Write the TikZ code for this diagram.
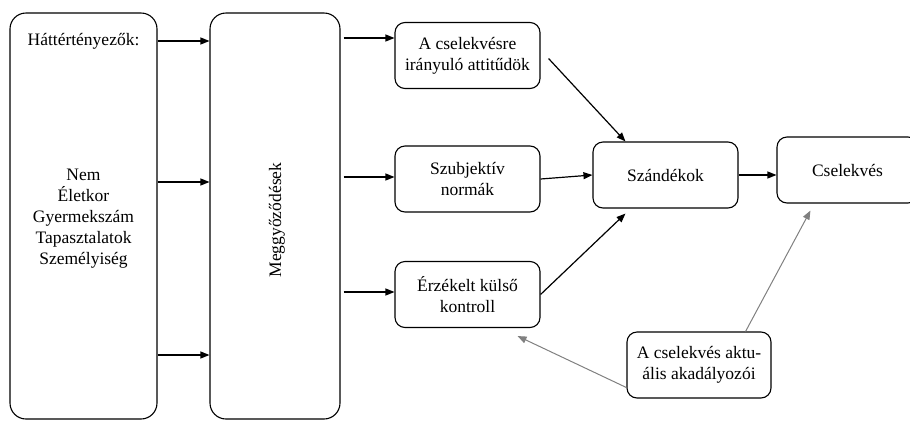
\documentclass[tikz,border=0pt]{standalone}
\usepackage{fontspec}
\setmainfont{Liberation Serif}
\newfontfamily\timesfont{Liberation Serif}
\usetikzlibrary{arrows.meta}

\tikzset{
  tall/.style = {draw, line width = 1.1pt, rounded corners = 16pt,
                 minimum width = 147pt, minimum height = 406pt},
  card/.style = {draw, line width = 1.1pt, rounded corners = 10pt, align = center,
                 minimum width = 145pt, minimum height = 66pt, inner sep = 2pt},
  txt/.style  = {align = center, inner sep = 0pt},
  arr/.style  = {line width = 1.2pt, -{Triangle[length = 9pt, width = 7pt]}},
  garr/.style = {arr, gray, line width = 1pt}
}

\begin{document}
\begin{tikzpicture}[x = 1pt, y = -1pt, font = \timesfont\fontsize{17.5}{21}\selectfont]
        \useasboundingbox (0, 0) rectangle (910, 421);

        % left columns
        \node[tall] (bg) at (83.5, 216) {};
        \node[txt] (bgtitle) at (83.5, 41) {Háttértényezők:};
        \node[txt] (bglist) at (83.5, 219) {Nem\\Életkor\\Gyermekszám\\Tapasztalatok\\Személyiség};
        \node[tall, minimum width = 130pt] (beliefs) at (275, 216) {};
        \node[txt, rotate = 90] (beliefstxt) at (277, 220) {Meggyőződések};

        % middle column
        \node[card] (attitude) at (467.5, 55.5) {A cselekvésre\\irányuló attitűdök};
        \node[card] (norms) at (467.5, 179) {Szubjektív\\normák};
        \node[card] (control) at (467.5, 294.5) {Érzékelt külső\\kontroll};

        % right side
        \node[card] (intention) at (665.5, 175) {Szándékok};
        \node[card, minimum width = 141pt] (action) at (847.5, 170) {Cselekvés};
        \node[card, minimum width = 144pt] (barriers) at (699, 365) {A cselekvés aktu-\\ális akadályozói};

        \foreach \y in {41, 182, 355}
          \draw[arr] (bg.east |- 0,\y) -- (beliefs.west |- 0,\y);
        \foreach \y in {38, 177, 292}
          \draw[arr, shorten <= 3pt] (beliefs.east |- 0,\y) -- (attitude.west |- 0,\y);

        \draw[arr] ([xshift = 8pt, yshift = -3pt]attitude.east) -- ([xshift = 33pt]intention.north west);
        \draw[arr] (norms.east) -- (intention.west);
        \draw[arr] (control.east) -- ([xshift = 33pt, yshift = -5pt]intention.south west);
        \draw[arr] (intention.east) -- (intention.east -| action.west);

        \draw[garr] ([xshift = -26pt]barriers.north east) -- ([xshift = 34pt, yshift = -7pt]action.south west);
        \draw[garr] ([yshift = 11pt]barriers.south west) -- ([xshift = -23pt, yshift = -8pt]control.south east);
      \end{tikzpicture}
\end{document}
